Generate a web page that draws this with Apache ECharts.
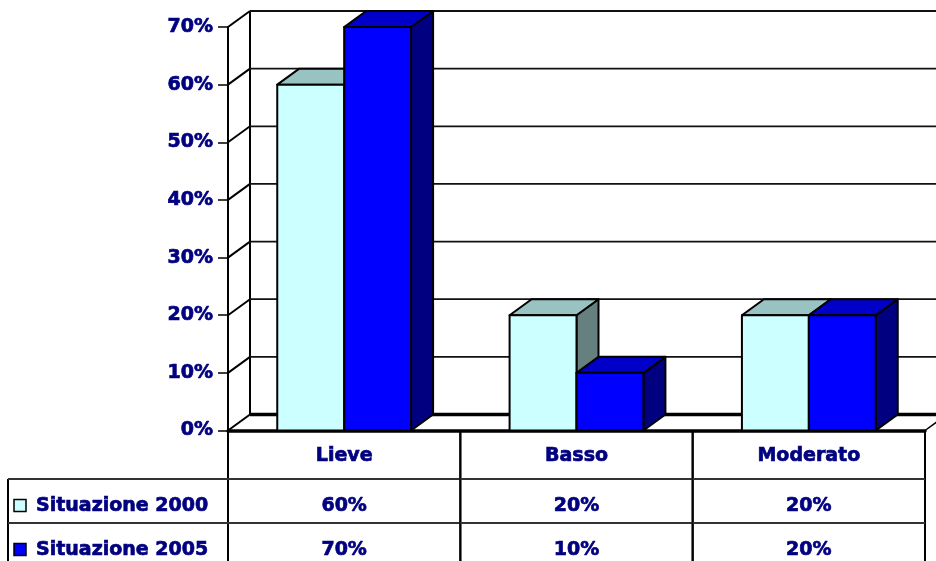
<!DOCTYPE html>
<html>
<head>
<meta charset="utf-8">
<script src="https://cdn.jsdelivr.net/npm/echarts@6/dist/echarts.min.js"></script>
<style>html,body{margin:0;padding:0;background:#fff;}#chart{width:936px;height:561px;}</style>
</head>
<body>
<div id="chart"></div>
<script>
// ---- data ----
const categories = ['Lieve', 'Basso', 'Moderato'];
const seriesNames = ['Situazione 2000', 'Situazione 2005'];
const values2000 = [0.60, 0.20, 0.20];
const values2005 = [0.70, 0.10, 0.20];
const yTickValues = [0, 0.1, 0.2, 0.3, 0.4, 0.5, 0.6, 0.7];

// ---- styles ----
const DX = 22, DY = 16;           // 3D depth offset
const BAR_FRAC = 0.288;           // bar width as fraction of band
const FONT = 'DejaVu Sans';
const NAVY = '#000080';
const faces = [
  { front: '#CCFFFF', top: '#99C2C2', side: '#668080' },
  { front: '#0000FF', top: '#0000C8', side: '#000080' }
];
const HEADER_H = 48.5, ROW_H = 44;
const TABLE_LEFT = 8;

const chart = echarts.init(document.getElementById('chart'), null, { renderer: 'canvas' });

function pct(v) { return Math.round(v * 100) + '%'; }

function renderWalls(params, api) {
  const cs = params.coordSys;
  const v = api.value(0);
  const yF = api.coord([0, v])[1];
  const x0 = cs.x, xR = cs.x + cs.width;
  const children = [];
  children.push({ type: 'line', shape: { x1: x0, y1: yF, x2: x0 + DX, y2: yF - DY },
    style: { stroke: '#000', lineWidth: 2 } });
  if (v === 0) {
    children.push({ type: 'line', shape: { x1: x0 + DX, y1: yF - DY, x2: xR + DX, y2: yF - DY },
      style: { stroke: '#000', lineWidth: 3.5 } });
    children.push({ type: 'line', shape: { x1: xR, y1: yF, x2: xR + DX, y2: yF - DY },
      style: { stroke: '#000', lineWidth: 1.5 } });
    const yTop = cs.y;
    children.push({ type: 'line', shape: { x1: x0 + DX, y1: yF - DY, x2: x0 + DX, y2: yTop - DY },
      style: { stroke: '#000', lineWidth: 2 } });
  } else {
    children.push({ type: 'line', shape: { x1: x0 + DX, y1: yF - DY, x2: xR + DX, y2: yF - DY },
      style: { stroke: '#111', lineWidth: 1.8 } });
  }
  return { type: 'group', children };
}

function makeBarRenderer(sIdx) {
  return function (params, api) {
    const c = api.value(0), v = api.value(1);
    const top = api.coord([c, v]);
    const base = api.coord([c, 0]);
    const band = api.size([1, 0])[0];
    const w = band * BAR_FRAC;
    const x0 = top[0] + (sIdx === 0 ? -w : 0), x1 = x0 + w;
    const yT = top[1], yB = base[1];
    const f = faces[sIdx];
    const st = (fill) => ({ fill, stroke: '#000', lineWidth: 2, lineJoin: 'round' });
    return {
      type: 'group',
      children: [
        { type: 'polygon', shape: { points: [[x1, yT], [x1 + DX, yT - DY], [x1 + DX, yB - DY], [x1, yB]] }, style: st(f.side) },
        { type: 'polygon', shape: { points: [[x0, yT], [x0 + DX, yT - DY], [x1 + DX, yT - DY], [x1, yT]] }, style: st(f.top) },
        { type: 'rect', shape: { x: x0, y: yT, width: w, height: yB - yT }, style: st(f.front) }
      ]
    };
  };
}

const tableRows = [values2000, values2005];

function renderTable(params, api) {
  const c = api.value(0);
  const center = api.coord([c, 0]);
  const band = api.size([1, 0])[0];
  const xl = center[0] - band / 2, xr = center[0] + band / 2;
  const y0 = center[1];
  const yH = y0 + HEADER_H;
  const yBottom = yH + ROW_H * tableRows.length;
  const textStyle = (text, x, y, align) => ({
    type: 'text', style: { text, x, y, align: align || 'center', verticalAlign: 'middle',
      font: 'bold 19px "' + FONT + '"', fill: NAVY, stroke: NAVY, lineWidth: 0.7 } });
  const children = [];
  children.push({ type: 'line', shape: { x1: xl, y1: y0, x2: xl, y2: yBottom + 5 }, style: { stroke: '#000', lineWidth: 2 } });
  children.push({ type: 'line', shape: { x1: xr, y1: y0, x2: xr, y2: yBottom + 5 }, style: { stroke: '#000', lineWidth: 2 } });
  for (let r = 0; r <= tableRows.length; r++) {
    const y = yH + r * ROW_H;
    children.push({ type: 'line', shape: { x1: xl, y1: y, x2: xr, y2: y }, style: { stroke: '#333', lineWidth: 2 } });
  }
  children.push(textStyle(categories[c], center[0], y0 + HEADER_H / 2 + 1));
  tableRows.forEach((row, r) => {
    children.push(textStyle(pct(row[c]), center[0], yH + r * ROW_H + 27));
  });
  if (c === 0) {
    children.push({ type: 'line', shape: { x1: TABLE_LEFT, y1: yH, x2: TABLE_LEFT, y2: yBottom + 5 }, style: { stroke: '#000', lineWidth: 2 } });
    for (let r = 0; r <= tableRows.length; r++) {
      const y = yH + r * ROW_H;
      children.push({ type: 'line', shape: { x1: TABLE_LEFT, y1: y, x2: xl, y2: y }, style: { stroke: '#333', lineWidth: 2 } });
    }
    seriesNames.forEach((name, r) => {
      const cy = yH + r * ROW_H + 27;
      children.push({ type: 'rect', shape: { x: 14, y: cy - 6.5, width: 12, height: 12 },
        style: { fill: faces[r].front, stroke: '#000', lineWidth: 1.5 } });
      children.push(textStyle(name, 36, cy, 'left'));
    });
  }
  return { type: 'group', children };
}

const option = {
  backgroundColor: '#fff',
  animation: false,
  grid: { left: 228, right: 11, top: 27, bottom: 130.5 },
  xAxis: {
    type: 'category', data: categories,
    axisLine: { show: true, lineStyle: { color: '#000', width: 3.5 } },
    axisTick: { show: false }, axisLabel: { show: false }, splitLine: { show: false }
  },
  yAxis: {
    type: 'value', min: 0, max: 0.7, interval: 0.1,
    axisLine: { show: true, lineStyle: { color: '#000', width: 2 } },
    axisTick: { show: true, length: 10, lineStyle: { color: '#000', width: 1.5 } },
    axisLabel: { margin: 15, formatter: pct, color: NAVY, fontFamily: FONT, fontWeight: 'bold', fontSize: 19,
      textBorderColor: NAVY, textBorderWidth: 0.7 },
    splitLine: { show: false }
  },
  series: [
    { type: 'custom', name: 'walls', renderItem: renderWalls, data: yTickValues.map(v => [v]),
      encode: { y: 0 }, z: 1, silent: true },
    { type: 'custom', name: seriesNames[0], renderItem: makeBarRenderer(0),
      data: values2000.map((v, i) => [i, v]), encode: { x: 0, y: 1 }, z: 3 },
    { type: 'custom', name: seriesNames[1], renderItem: makeBarRenderer(1),
      data: values2005.map((v, i) => [i, v]), encode: { x: 0, y: 1 }, z: 4 },
    { type: 'custom', name: 'table', renderItem: renderTable,
      data: categories.map((c, i) => [i]), encode: { x: 0 }, z: 5, silent: true }
  ]
};
chart.setOption(option);
</script>
</body>
</html>
